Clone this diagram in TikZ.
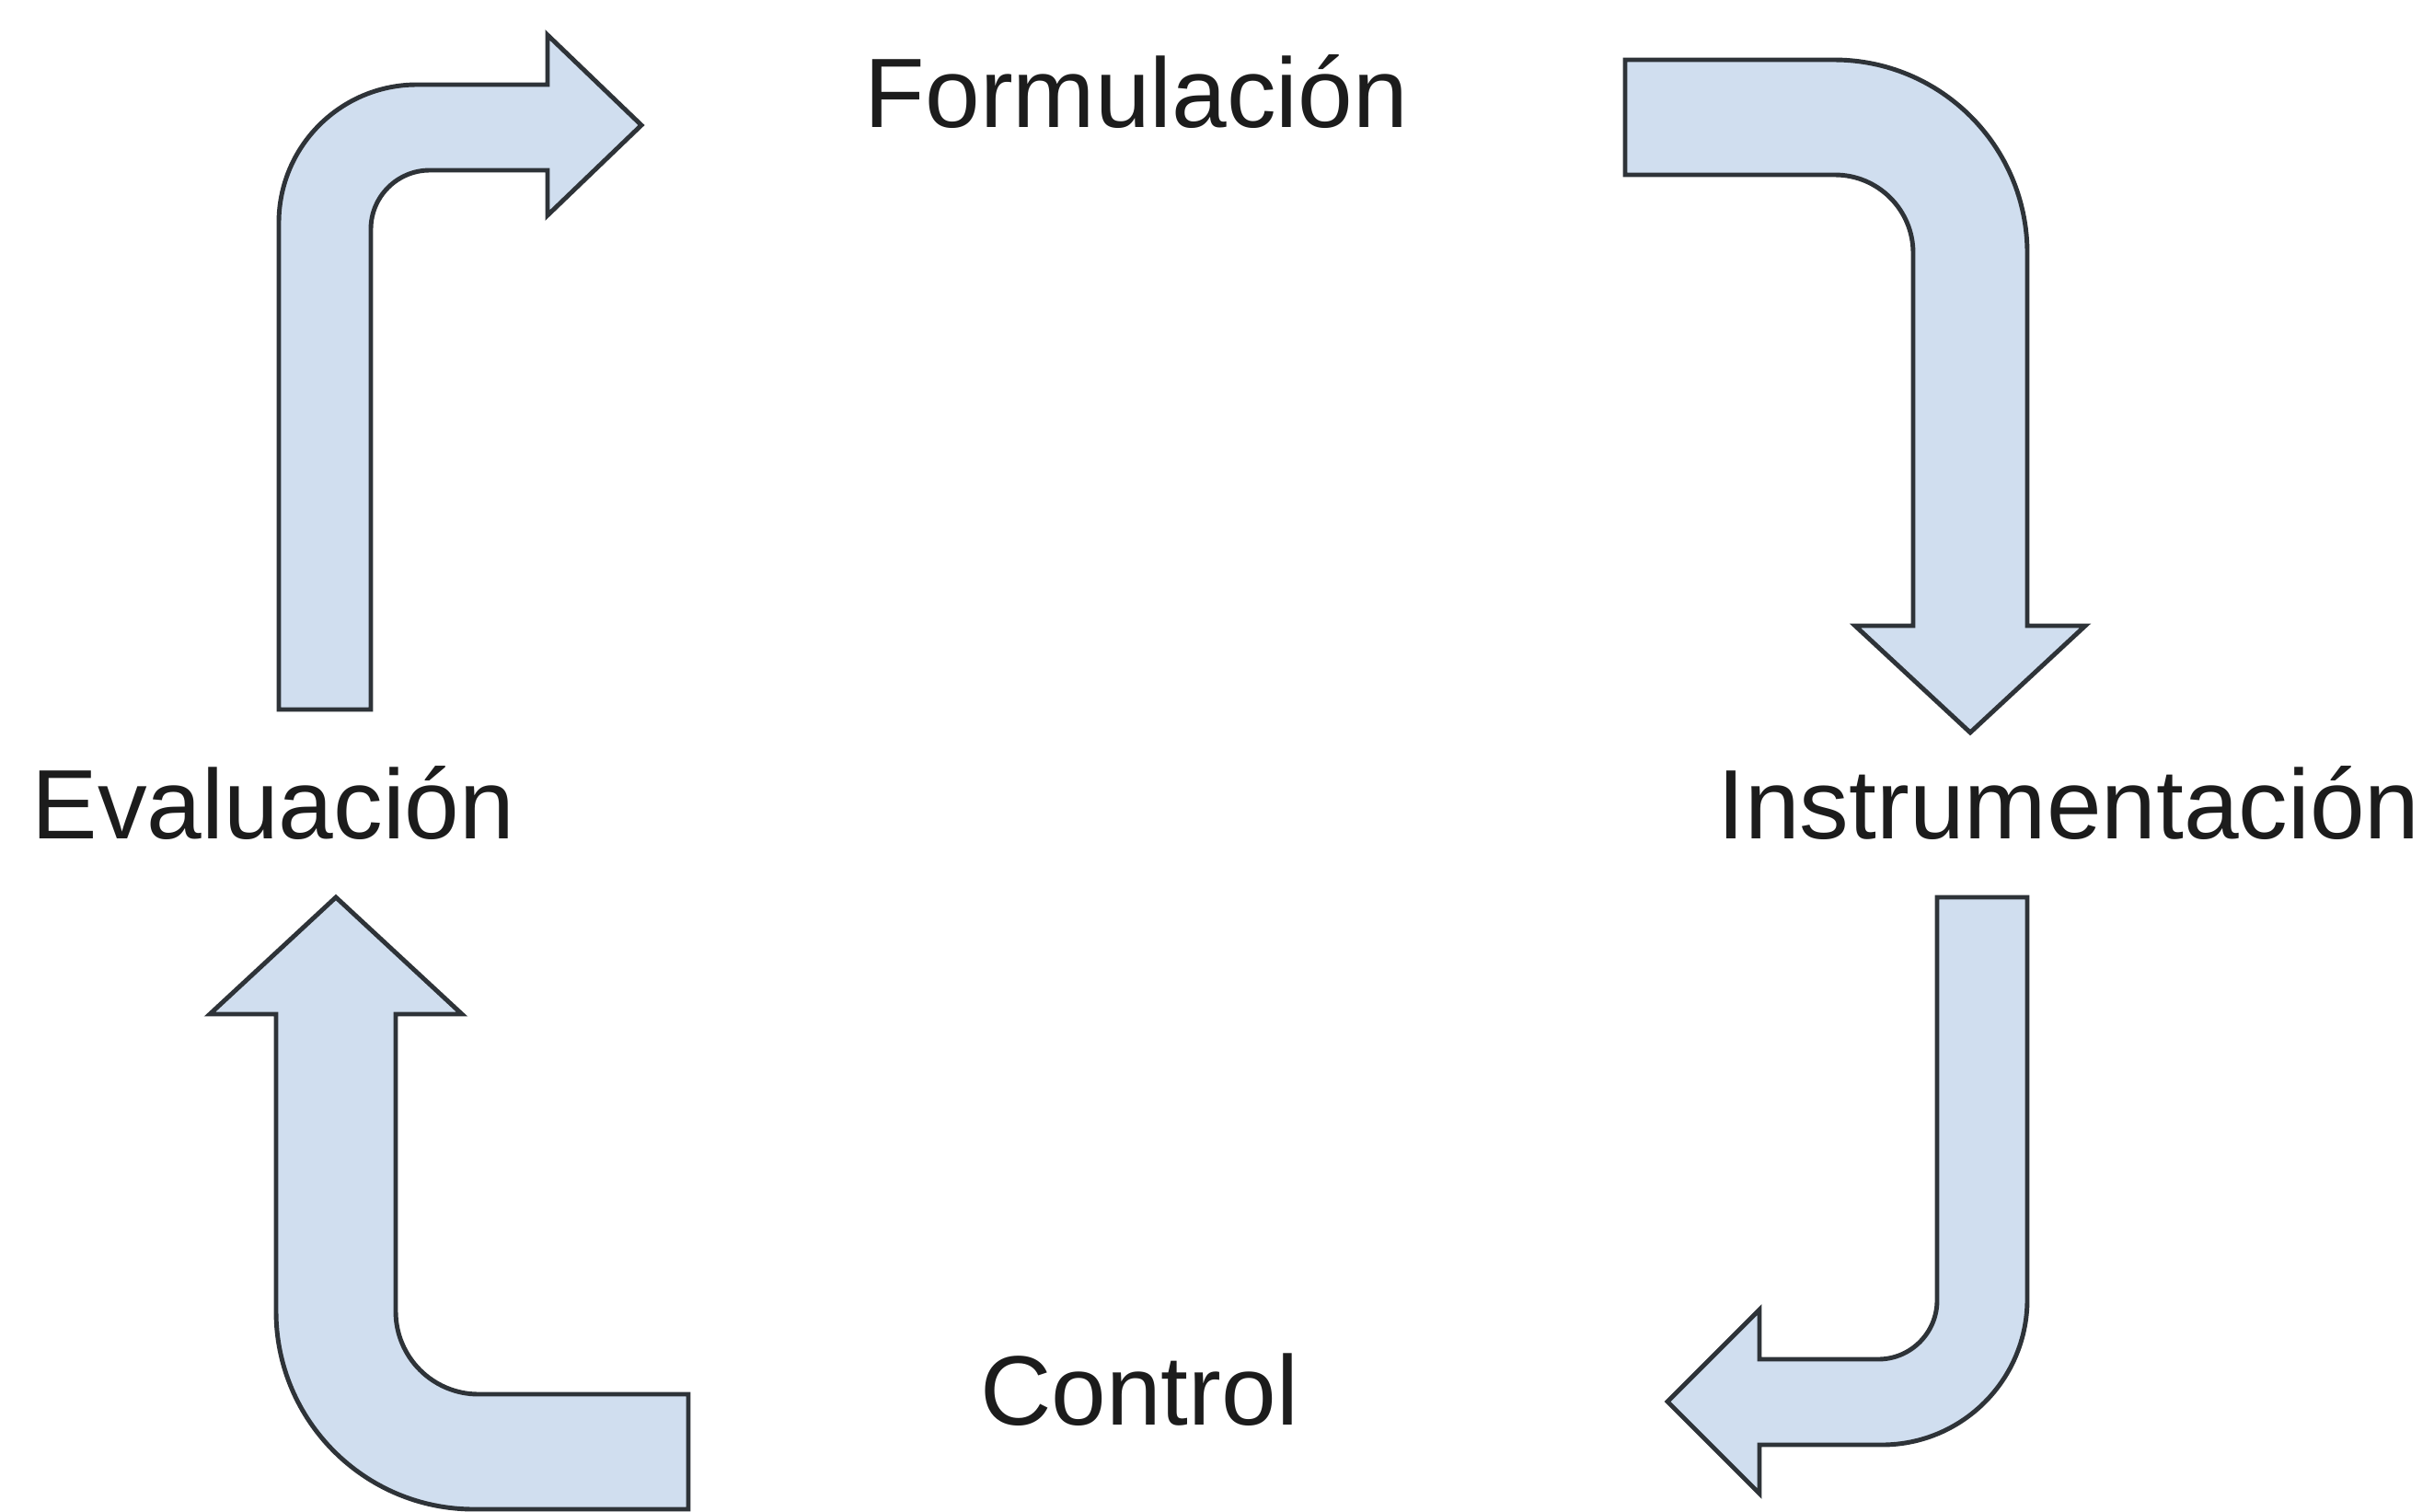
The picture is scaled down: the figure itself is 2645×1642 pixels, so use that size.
\documentclass[tikz,border=0pt]{standalone}
\usepackage{fontspec}
\setmainfont{Liberation Sans}
\usepackage{tikz}
\usetikzlibrary{positioning}

\definecolor{arrowfill}{HTML}{D0DEEF}
\definecolor{arrowline}{HTML}{2E3338}
\definecolor{textgray}{HTML}{1C1C1C}

\tikzset{
	bentarrow/.style={fill=arrowfill, draw=arrowline, line width=1.4pt, line join=miter},
	phase/.style={text=textgray, anchor=base, inner sep=0pt, font=\fontsize{30.5}{36}\selectfont}
}

\begin{document}
\begin{tikzpicture}[x=0.01cm,y=-0.01cm]
				\useasboundingbox (0,0) rectangle (2645,1642);

				%Nodes
				\node[phase] (formulacion) 		at (1235,138) 	{Formulación};
				\node[phase] (instrumentacion) 	at (2248,911) 	{Instrumentación};
				\node[phase] (control) 			at (1238,1548) 	{Control};
				\node[phase] (evaluacion) 		at (297,911) 	{Evaluación};

				\coordinate      (a) 	at 	(303,771);
				\coordinate      (b) 	at 	(1766,65);
				\coordinate      (c) 	at 	(2105,975);
				\coordinate      (d) 	at 	(748,1515);

				%Arrows
				% evaluacion -> formulacion
				\filldraw[bentarrow] (a) -- (303,242) arc (180:270:150) -- (595,92) -- (595,38)
					-- (697,136) -- (595,234) -- (595,185) -- (467,185) arc (270:180:64) -- (403,771) -- cycle;
				% formulacion -> instrumentacion
				\filldraw[bentarrow] (b) -- (1993,65) arc (270:360:210) -- (2203,680) -- (2266,680)
					-- (2141,796) -- (2016,680) -- (2079,680) -- (2079,275) arc (0:-90:85) -- (1766,190) -- cycle;
				% instrumentacion -> control
				\filldraw[bentarrow] (c) -- (2203,975) -- (2203,1412) arc (0:90:158) -- (1912,1570) -- (1912,1623)
					-- (1812,1523) -- (1912,1423) -- (1912,1477) -- (2041,1477) arc (90:0:64) -- cycle;
				% control -> evaluacion
				\filldraw[bentarrow] (d) -- (520,1515) arc (90:180:90) -- (430,1102) -- (502,1102)
					-- (365,975) -- (228,1102) -- (300,1102) -- (300,1425) arc (180:90:215) -- (748,1640) -- cycle;

			\end{tikzpicture}
\end{document}
